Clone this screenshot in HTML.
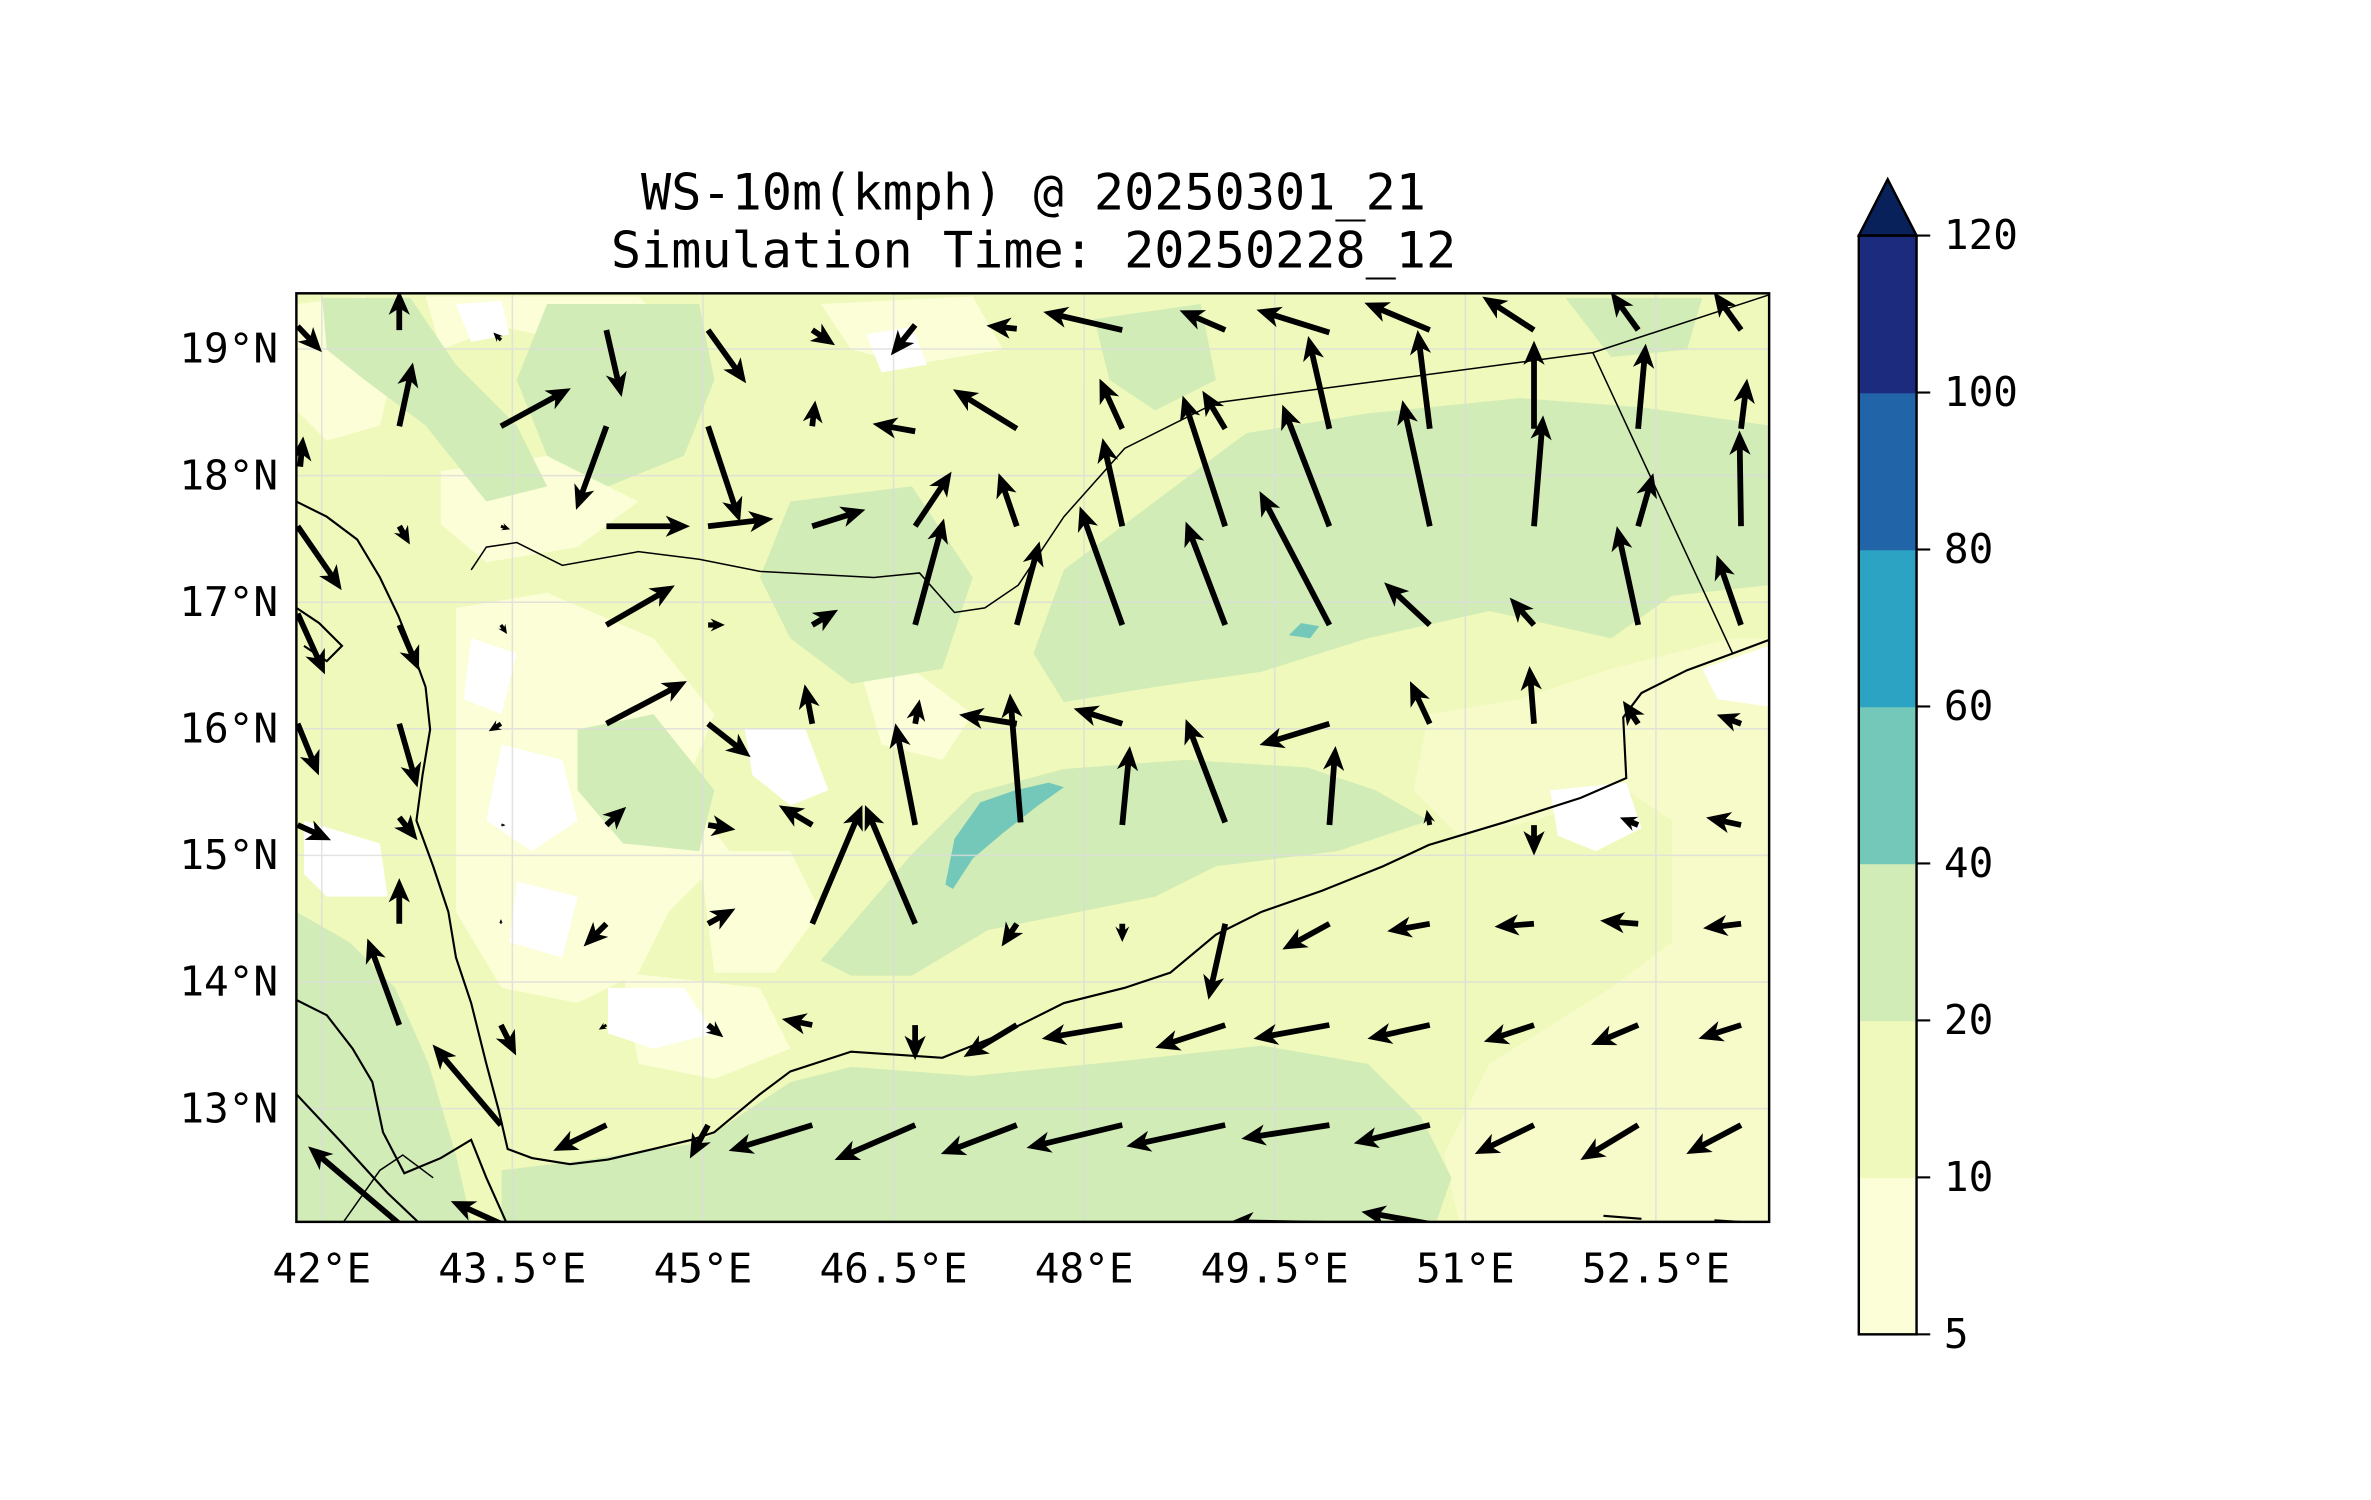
<!DOCTYPE html>
<html><head><meta charset="utf-8"><style>
html,body{margin:0;padding:0;background:#fff;}
svg{display:block;}
text{font-family:"DejaVu Sans Mono","Liberation Mono",monospace;fill:#000;}
</style></head><body>
<svg id="chart" width="2371" height="1500" viewBox="0 0 1560 987" preserveAspectRatio="none" xmlns="http://www.w3.org/2000/svg">
<defs><clipPath id="frameClip"><rect x="195" y="193" width="969" height="611"/></clipPath></defs>
<text x="680" y="138" font-size="33" text-anchor="middle">WS-10m(kmph) @ 20250301_21</text>
<text x="680" y="176" font-size="33" text-anchor="middle">Simulation Time: 20250228_12</text>
<g id="map" clip-path="url(#frameClip)">
<rect x="195" y="193" width="969" height="611" fill="#eff9bb"/>
<g id="lightPatches" fill="#fbfed6">
<path d="M195,200 L240,195 L262,230 L250,280 L215,290 L195,270Z"/>
<path d="M280,195 L420,195 L440,215 L400,230 L330,215 L290,230Z"/>
<path d="M540,200 L640,195 L660,230 L600,240 L560,230Z"/>
<path d="M290,310 L360,300 L420,330 L380,360 L320,370 L290,345Z"/>
<path d="M300,400 L360,390 L430,420 L470,470 L450,520 L480,560 L440,600 L420,640 L380,660 L330,650 L300,600 L300,500Z"/>
<path d="M460,560 L520,560 L540,600 L510,640 L470,640Z"/>
<path d="M410,640 L500,650 L520,690 L470,710 L420,700Z"/>
<path d="M560,420 L600,440 L640,470 L620,500 L580,490Z"/>
<path d="M940,470 L1000,460 L1060,440 L1100,430 L1140,420 L1164,420 L1164,804 L960,804 L950,760 L980,700 L1060,650 L1100,620 L1100,540 L1070,520 L1010,540 L960,550 L930,520Z" fill="#f6fbc9"/>
<path d="M1020,520 L1070,515 L1080,545 L1050,560 L1025,550Z" fill="#fff"/>
<path d="M1120,440 L1164,425 L1164,465 L1130,460Z" fill="#fff"/>
<path d="M310,420 L340,430 L330,470 L305,460Z" fill="#fff"/>
<path d="M330,490 L370,500 L380,540 L350,560 L320,540Z" fill="#fff"/>
<path d="M340,580 L380,590 L370,630 L335,620Z" fill="#fff"/>
<path d="M400,650 L450,650 L470,680 L430,690 L400,680Z" fill="#fff"/>
<path d="M490,480 L530,480 L545,520 L520,530 L495,510Z" fill="#fff"/>
<path d="M570,220 L600,215 L610,240 L580,245Z" fill="#fff"/>
<path d="M300,200 L330,198 L335,220 L310,225Z" fill="#fff"/>
<path d="M200,540 L250,555 L255,590 L215,590 L200,575Z" fill="#fff"/>
</g>
<g id="greenPatches" fill="#d1ecb6">
<path d="M330,804 L330,770 L380,764 L460,752 L520,712 L560,702 L640,708 L740,698 L830,688 L900,700 L935,735 L955,775 L945,804Z"/>
<path d="M680,430 L700,375 L760,330 L820,285 L900,272 L1000,262 L1080,268 L1164,280 L1164,385 L1100,392 L1060,420 L980,402 L900,420 L830,442 L760,452 L700,462Z"/>
<path d="M540,632 L600,562 L640,522 L700,506 L780,500 L860,505 L905,520 L940,540 L880,560 L800,570 L760,590 L700,602 L650,612 L600,642 L560,642Z"/>
<path d="M195,600 L230,620 L260,650 L282,700 L300,760 L310,804 L195,804Z"/>
<path d="M212,196 L270,196 L300,240 L340,280 L360,320 L320,330 L280,280 L240,250 L215,230Z"/>
<path d="M360,200 L460,200 L470,250 L450,300 L400,320 L360,300 L340,250Z"/>
<path d="M520,330 L600,320 L640,380 L620,440 L560,450 L520,420 L500,380Z"/>
<path d="M380,480 L430,470 L470,520 L460,560 L410,555 L380,520Z"/>
<path d="M720,210 L790,200 L800,250 L760,270 L730,250Z"/>
<path d="M1030,196 L1120,196 L1110,230 L1060,235Z"/>
</g>
<g id="tealPatches" fill="#74c8b9">
<path d="M622,582 L628,552 L645,528 L668,520 L690,515 L700,518 L683,530 L660,548 L640,565 L627,585Z"/>
<path d="M848,418 L856,410 L868,412 L862,420Z"/>
</g>
<g id="grid" stroke="#dcdcdc" stroke-width="1" opacity="0.8"></g>
<g id="coast" fill="none" stroke="#000" stroke-width="1.4">
<polyline points="195,330 215,340 235,355 250,380 262,405 272,430 280,452 283,480 278,510 274,540 285,570 295,600 300,630 310,660 320,700 328,730 334,756 350,762 375,766 400,763 430,756 455,750 470,745 500,720 520,705 560,692 620,696 660,680 700,660 740,650 770,640 800,615 830,600 870,586 910,570 940,556 990,541 1040,525 1070,512 1068,472 1080,456 1110,441 1140,430 1164,421"/>
<polyline points="195,658 215,668 232,690 245,712 252,745 266,772 290,762 310,750 320,775 333,804"/>
<polyline points="195,720 225,752 255,785 275,804"/>
<polyline points="195,400 210,410 225,425 215,435 200,425"/>
<polyline points="1055,800 1080,802"/><polyline points="1128,803 1145,804"/>
</g>
<g id="borders" fill="none" stroke="#000" stroke-width="1">
<polyline points="310,375 320,360 340,357 370,372 420,363 460,368 500,376 575,380 605,377 628,403 648,400 670,385 700,340 740,295 800,265 1048,232 1164,194"/>
<polyline points="1048,232 1140,430"/>
<polyline points="226,804 250,770 265,760 285,775"/>
</g>
<g id="arrows" fill="#000"></g>
</g>
<rect x="195" y="193" width="969" height="611" fill="none" stroke="#000" stroke-width="1.6"/>
<g id="xTicks"></g>
<g id="yTicks"></g>
<g id="colorbar"></g>
</svg>
<script>
var xTickLabels=["42°E","43.5°E","45°E","46.5°E","48°E","49.5°E","51°E","52.5°E"];
var xTickLons=[42,43.5,45,46.5,48,49.5,51,52.5];
var yTickLabels=["19°N","18°N","17°N","16°N","15°N","14°N","13°N"];
var yTickLats=[19,18,17,16,15,14,13];
var cbLevels=[5,10,20,40,60,80,100,120];
var cbColors=["#fbfed6","#eff9bb","#d1ecb6","#74c8b9","#2ca3c3","#2264a8","#1d2b7f"];
var qLon=[41.81,42.61,43.41,44.24,45.04,45.86,46.67,47.47,48.30,49.11,49.93,50.72,51.54,52.36,53.17,
41.83,42.61,43.41,44.24,45.04,45.86,46.67,47.47,48.30,49.11,49.93,50.72,51.54,52.36,53.17,
41.81,42.61,43.41,44.24,45.04,45.86,46.67,47.47,48.30,49.11,49.93,50.72,51.54,52.36,53.17,
41.81,42.61,43.41,44.24,45.04,45.86,46.67,47.47,48.30,49.11,49.93,50.72,51.54,52.36,53.17,
41.81,42.61,43.41,44.24,45.04,45.86,46.67,47.50,47.47,48.30,49.11,49.93,50.72,51.54,52.36,53.17,
41.81,42.61,43.41,44.24,45.04,45.86,46.67,48.30,49.93,50.72,51.54,52.36,53.17,
42.61,43.41,44.24,45.04,45.86,46.67,47.47,48.30,49.11,49.93,50.72,51.54,52.36,53.17,
42.61,43.41,44.24,45.04,45.86,46.67,47.47,48.30,49.11,49.93,50.72,51.54,52.36,53.17,
43.41,44.24,45.04,45.86,46.67,47.47,48.30,49.11,49.93,50.72,51.54,52.36,53.17,
42.61,43.41,49.93,50.72];
var qLat=[19.18,19.15,19.07,19.15,19.15,19.15,19.19,19.16,19.15,19.15,19.13,19.15,19.15,19.15,19.15,
18.07,18.39,18.39,18.39,18.39,18.39,18.35,18.37,18.37,18.37,18.37,18.37,18.37,18.37,18.37,
17.60,17.60,17.60,17.60,17.60,17.60,17.60,17.60,17.60,17.60,17.60,17.60,17.60,17.60,17.60,
16.91,16.82,16.82,16.82,16.82,16.82,16.82,16.82,16.82,16.82,16.82,16.82,16.82,16.82,16.82,
16.04,16.04,16.04,16.04,16.04,16.04,16.04,15.26,16.04,16.04,15.26,16.04,16.04,16.04,16.04,16.04,
15.24,15.30,15.24,15.24,15.24,15.24,15.24,15.24,15.24,15.24,15.24,15.24,15.24,
14.46,14.46,14.46,14.46,14.46,14.46,14.46,14.46,14.46,14.46,14.46,14.46,14.46,14.46,
13.66,13.66,13.66,13.66,13.66,13.66,13.66,13.66,13.66,13.66,13.66,13.66,13.66,13.66,
12.87,12.87,12.87,12.87,12.87,12.87,12.87,12.87,12.87,12.87,12.87,12.87,12.87,
12.09,12.09,12.09,12.09];
var qU=[8,0,-2.5,5,12.5,7.5,-8,-10,-26,-15,-24,-21.5,-17,-9,-9,
1,4.5,23,-10,10.5,1,-14,-21,-7.5,-7.5,-7,-4,0,2.5,2,
14.5,3.5,3,27.5,21.5,17.5,12,-6,-6.5,-14,-15.5,-9,3,5,-0.5,
9,6.5,2,22.5,5.5,8.5,9.5,7.5,-14,-13,-23,-15,-8,-7,-8,
7,6,-4,26.5,14,-2.5,1.5,-3.5,-19,-16,-13,-23,-6.5,-1.5,-5,-8,
11,6,1.5,6.5,9,-11,-6.5,2.5,2,-1,0,-6,-11.5,
0,0,-7.5,9,16.5,-16.5,-5,0,-5.5,-15.5,-14,-13,-12.5,-12.5,
-10.5,5,-2.5,5,-10,0,-17.5,-26.5,-23,-25,-20.5,-16.5,-15.5,-14,
-22.5,-17.5,-6,-27.5,-26.5,-25,-31.5,-32.5,-29,-25,-19.5,-19,-18,
-30,-16.5,-33,-22.5];
var qV=[-8.5,13,2.5,-22,-17.5,-5,-10,1,6,6.5,7.5,9,11,12.5,12.5,
10,21,12.5,-27.5,-31.5,8.5,2.5,13,16.5,12.5,30.5,32.5,29,28,16.5,
-21,-6,-1,0,2.5,5.5,18,17.5,29,43,40,41.5,36.5,17.5,31.5,
-20,-15,-3,13,0,5,35,27.5,39,34,44,14,9,32.5,23,
-17,-21,-2.5,14,-11,13,8,42.5,3,5,34,-7,14,19,7.5,3,
-5,-7.5,0,6,-1.5,6.5,33.5,26,26,5,-10,2.5,2.5,
15,1.5,-7.5,5,39,39,-7.5,-6,-25,-8.5,-2.5,-1,1,-1.5,
28.5,-10,-1.5,-4,2,-11.5,-10.5,-4.5,-7.5,-4.5,-4.5,-5.5,-6.5,-4.5,
26.5,-8.5,-11,-8.5,-11.5,-9.5,-7.5,-7,-4.5,-6,-9.5,-11.5,-9.5,
25.5,7.5,0.5,4];
var NS="http://www.w3.org/2000/svg";
function xOf(lon){return 195+(lon-41.8)*83.6;}
function yOf(lat){return 193+(19.44-lat)*83.3;}
function cbY(i){return 878-i*(723/7);}
function mk(tag,attrs,parent){var e=document.createElementNS(NS,tag);for(var k in attrs)e.setAttribute(k,attrs[k]);parent.appendChild(e);return e;}
var grid=document.getElementById('grid');
xTickLons.forEach(function(l){var g=mk('line',{x1:xOf(l),x2:xOf(l),y1:193,y2:804},grid);

});
yTickLats.forEach(function(l){var g=mk('line',{x1:195,x2:1164,y1:yOf(l),y2:yOf(l)},grid);

});
var xt=document.getElementById('xTicks');
xTickLons.forEach(function(l,i){var t=mk('text',{x:xOf(l),y:844,'font-size':27,'text-anchor':'middle'},xt);t.textContent=xTickLabels[i];

});
var yt=document.getElementById('yTicks');
yTickLats.forEach(function(l,i){var t=mk('text',{x:183,y:yOf(l)+9,'font-size':27,'text-anchor':'end'},yt);t.textContent=yTickLabels[i];

});
var ar=document.getElementById('arrows');
var K=2;
for(var i=0;i<qLon.length;i++){
 var x0=xOf(qLon[i]),y0=yOf(qLat[i]);var dx=qU[i]*K,dy=-qV[i]*K;var L=Math.sqrt(dx*dx+dy*dy);if(L<0.5)continue;
 var ux=dx/L,uy=dy/L,px=-uy,py=ux;
 var hl=Math.min(16,L*0.85),hw=Math.min(7,hl*0.45),sw=1.9*Math.min(1,L/12);
 var sl=L-hl*0.8;
 var pts=[[0,-sw],[sl,-sw],[L-hl,-hw],[L,0],[L-hl,hw],[sl,sw],[0,sw]];
 var s=pts.map(function(p){return (x0+ux*p[0]+px*p[1]).toFixed(1)+','+(y0+uy*p[0]+py*p[1]).toFixed(1);}).join(' ');
 var a=mk('polygon',{points:s},ar);
 
 
}
var cb=document.getElementById('colorbar');
var CBX=1223;
for(var j=0;j<cbColors.length;j++){var r=mk('rect',{x:CBX,y:cbY(j+1),width:38,height:cbY(j)-cbY(j+1)+0.5,fill:cbColors[j]},cb);

}
var tri=mk('polygon',{points:CBX+','+cbY(7)+' '+(CBX+38)+','+cbY(7)+' '+(CBX+19)+',118',fill:'#08215a',stroke:'#000','stroke-width':1.6},cb);


var fr=mk('rect',{x:CBX,y:cbY(7),width:38,height:cbY(0)-cbY(7),fill:'none',stroke:'#000','stroke-width':1.6},cb);


cbLevels.forEach(function(v,i){var y=cbY(i);mk('line',{x1:CBX+38,x2:CBX+47,y1:y,y2:y,stroke:'#000','stroke-width':1.4},cb);
var t=mk('text',{x:CBX+56,y:y+9,'font-size':27},cb);t.textContent=v;

});
</script>
</body></html>
